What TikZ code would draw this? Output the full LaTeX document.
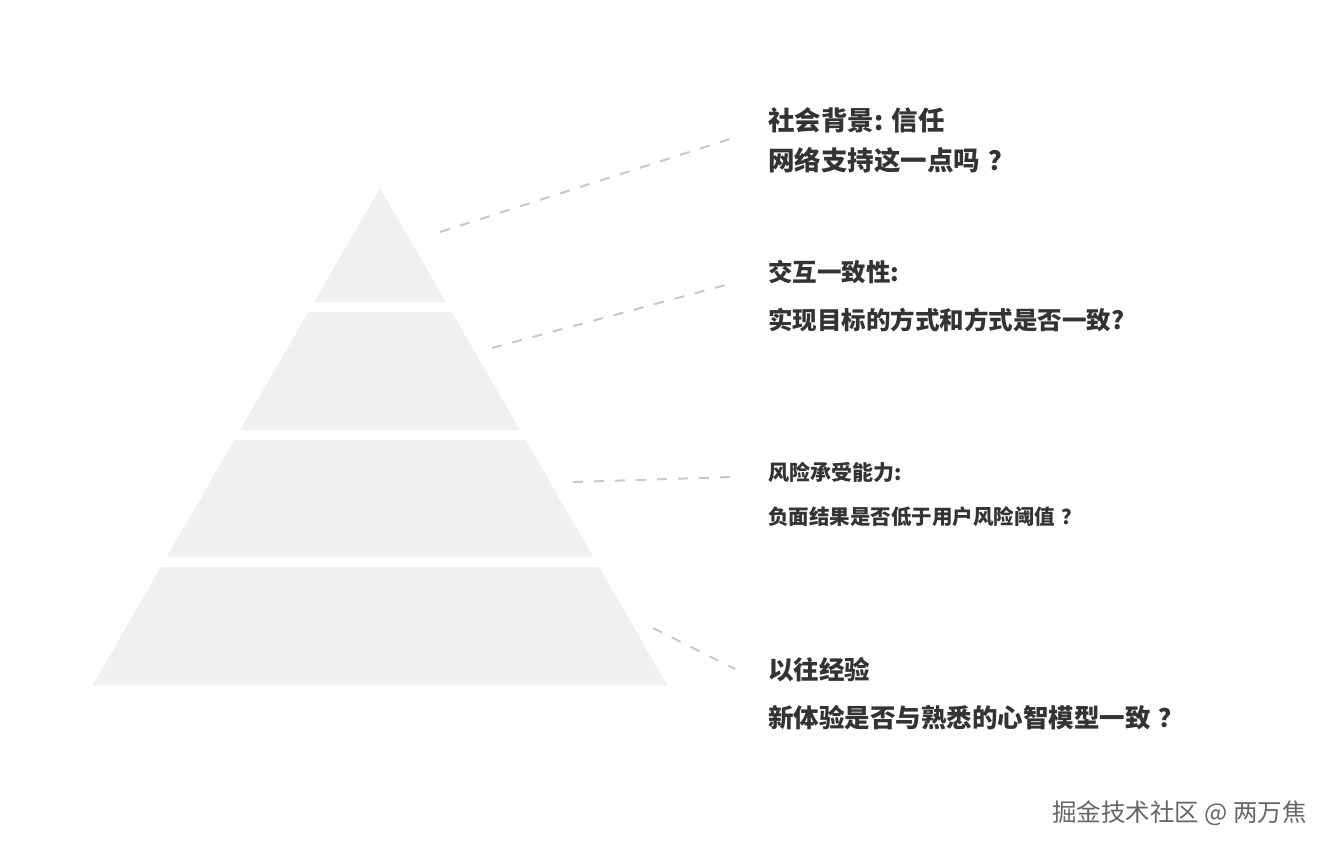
\documentclass[tikz,border=0pt]{standalone}
\usepackage{fontspec}
\setmainfont{Noto Sans CJK SC}
\definecolor{tiergray}{HTML}{F0F0F0}
\definecolor{dashgray}{HTML}{C8C8C8}
\definecolor{txtgray}{HTML}{333333}
\definecolor{wmgray}{HTML}{666666}
\newcommand{\fq}{\hspace{0.3em}？}
\tikzset{
  tier/.style={fill=tiergray, draw=none},
  leader/.style={draw=dashgray, line width=2pt, dash pattern=on 10pt off 11pt},
  lbl/.style={anchor=west, inner sep=0pt, text=txtgray, font=\bfseries},
  wm/.style={anchor=east, inner sep=0pt, text=wmgray}
}
\begin{document}
\begin{tikzpicture}[x=1pt,y=-1pt]
\useasboundingbox (0,0) rectangle (1330,850);
\fill[white] (0,0) rectangle (1330,850);
% pyramid tiers
\path[tier] (380,188) -- (445.9,302) -- (314.1,302) -- cycle;
\path[tier] (308.3,312) -- (451.7,312) -- (519.9,430) -- (240.1,430) -- cycle;
\path[tier] (234.3,440) -- (525.7,440) -- (593.3,557) -- (166.7,557) -- cycle;
\path[tier] (160.9,567) -- (599.1,567) -- (667.3,685) -- (92.7,685) -- cycle;
% leader end points
\coordinate (a1) at (440,232);
\coordinate (b1) at (733,138);
\coordinate (a2) at (492,348);
\coordinate (b2) at (733,283);
\coordinate (a3) at (573,482);
\coordinate (b3) at (733,477);
\coordinate (a4) at (653,628);
\coordinate (b4) at (735,669);
\draw[leader] (a1) -- (b1);
\draw[leader] (a2) -- (b2);
\draw[leader] (a3) -- (b3);
\draw[leader] (a4) -- (b4);
% labels
\node[lbl, font=\bfseries\fontsize{26.5}{30}\selectfont] (t1a) at (768,120) {社会背景: 信任};
\node[lbl, font=\bfseries\fontsize{26.5}{30}\selectfont] (t1b) at (768,160) {网络支持这一点吗\fq};
\node[lbl, font=\bfseries\fontsize{24.5}{28}\selectfont] (t2a) at (768,272) {交互一致性:};
\node[lbl, font=\bfseries\fontsize{24.5}{28}\selectfont] (t2b) at (768,320) {实现目标的方式和方式是否一致?};
\node[lbl, font=\bfseries\fontsize{21}{24}\selectfont] (t3a) at (768,472) {风险承受能力:};
\node[lbl, font=\bfseries\fontsize{20.5}{24}\selectfont] (t3b) at (768,517) {负面结果是否低于用户风险阈值\fq};
\node[lbl, font=\bfseries\fontsize{25.5}{29}\selectfont] (t4a) at (768,670) {以往经验};
\node[lbl, font=\bfseries\fontsize{25.5}{29}\selectfont] (t4b) at (768,718) {新体验是否与熟悉的心智模型一致\fq};
% watermark
\node[wm, font=\fontsize{24.5}{28}\selectfont] (wmk) at (1307,813) {掘金技术社区 @ 两万焦};
\end{tikzpicture}
\end{document}
